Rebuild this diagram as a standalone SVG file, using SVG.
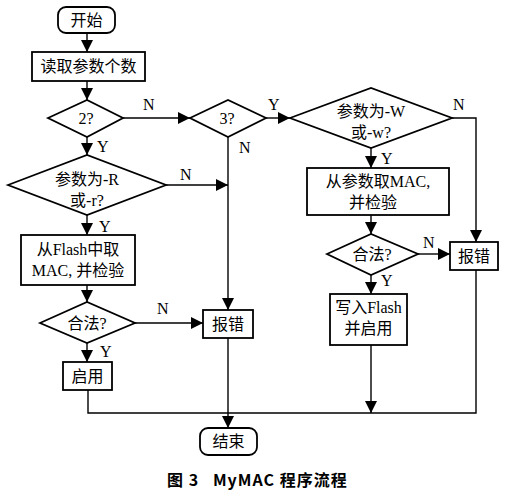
<svg xmlns="http://www.w3.org/2000/svg" width="506" height="498" viewBox="0 0 506 498">
<style>
.s{fill:#fff;stroke:#000;stroke-width:1.8}
.t{font-family:"Liberation Serif","Noto Sans CJK SC",serif;font-size:16px;fill:#000;text-anchor:middle}
.l{font-family:"Liberation Serif","Noto Sans CJK SC",serif;font-size:16px;fill:#000}
.c{fill:none;stroke:#000;stroke-width:1.4}
.cap{font-family:"Noto Sans CJK SC","DejaVu Sans",sans-serif;font-size:16px;font-weight:bold;fill:#000;letter-spacing:1px}
</style>
<defs>
<marker id="a" markerUnits="userSpaceOnUse" markerWidth="12" markerHeight="12" refX="12" refY="6" orient="auto"><path d="M0,0 L12,6 L0,12 z" fill="#000"/></marker>
</defs>
<rect width="506" height="498" fill="#fff"/>
<g id="connectors">
<path class="c" d="M87,33 V52" marker-end="url(#a)"/>
<path class="c" d="M87,81 V100" marker-end="url(#a)"/>
<path class="c" d="M123,118 H190" marker-end="url(#a)"/>
<path class="c" d="M87,137 V155" marker-end="url(#a)"/>
<path class="c" d="M266,118 H290" marker-end="url(#a)"/>
<path class="c" d="M228,137 V310" marker-end="url(#a)"/>
<path class="c" d="M166,185 H228" marker-end="url(#a)"/>
<path class="c" d="M87,215 V235" marker-end="url(#a)"/>
<path class="c" d="M87,285 V302" marker-end="url(#a)"/>
<path class="c" d="M135,323 H203" marker-end="url(#a)"/>
<path class="c" d="M87,343 V362" marker-end="url(#a)"/>
<path class="c" d="M452,118 H476 V242" marker-end="url(#a)"/>
<path class="c" d="M371,148 V168" marker-end="url(#a)"/>
<path class="c" d="M371,215 V234" marker-end="url(#a)"/>
<path class="c" d="M418,254 H450" marker-end="url(#a)"/>
<path class="c" d="M371,275 V294" marker-end="url(#a)"/>
<path class="c" d="M371,345 V413" marker-end="url(#a)"/>
<path class="c" d="M88,390 V413 H476 V270"/>
<path class="c" d="M228,338 V428" marker-end="url(#a)"/>
<text class="l" x="143" y="110">N</text>
<text class="l" x="97" y="152">Y</text>
<text class="l" x="239" y="153">N</text>
<text class="l" x="268" y="110">Y</text>
<text class="l" x="180" y="180">N</text>
<text class="l" x="99" y="232">Y</text>
<text class="l" x="157" y="314">N</text>
<text class="l" x="100" y="357">Y</text>
<text class="l" x="453" y="110">N</text>
<text class="l" x="381" y="164">Y</text>
<text class="l" x="423" y="248">N</text>
<text class="l" x="381" y="286">Y</text>
</g>
<g id="start"><rect class="s" x="58" y="7" width="57" height="26" rx="8"/><text class="t" x="86.5" y="25.5">开始</text></g>
<g id="read"><rect class="s" x="32" y="52" width="113" height="29"/><text class="t" x="88.5" y="72">读取参数个数</text></g>
<g id="d2"><polygon class="s" points="48,118 87,100 123,118 87,137"/><text class="t" x="86" y="124">2?</text></g>
<g id="d3"><polygon class="s" points="190,118 228,100 266,118 228,137"/><text class="t" x="227" y="124">3?</text></g>
<g id="dR"><polygon class="s" points="8,185 87,155 166,185 87,215"/><text class="t" x="87" y="185">参数为-R</text><text class="t" x="87" y="206">或-r?</text></g>
<g id="flash"><rect class="s" x="21" y="235" width="114" height="50"/><text class="t" x="78" y="255">从Flash中取</text><text class="t" x="78" y="276">MAC, 并检验</text></g>
<g id="validL"><polygon class="s" points="40,323 87,302 135,323 87,343"/><text class="t" x="87" y="329">合法?</text></g>
<g id="errM"><rect class="s" x="203" y="310" width="50" height="28"/><text class="t" x="228" y="330">报错</text></g>
<g id="enable"><rect class="s" x="63" y="362" width="49" height="28"/><text class="t" x="87.5" y="382">启用</text></g>
<g id="end"><rect class="s" x="200" y="428" width="57" height="27" rx="8"/><text class="t" x="228.5" y="447">结束</text></g>
<g id="dW"><polygon class="s" points="290,118 371,88 452,118 371,148"/><text class="t" x="371" y="117">参数为-W</text><text class="t" x="371" y="138">或-w?</text></g>
<g id="param"><rect class="s" x="307" y="168" width="142" height="47"/><text class="t" x="378" y="187">从参数取MAC,</text><text class="t" x="373" y="208">并检验</text></g>
<g id="validR"><polygon class="s" points="327,254 371,234 418,254 371,275"/><text class="t" x="372" y="260">合法?</text></g>
<g id="errR"><rect class="s" x="450" y="242" width="48" height="28"/><text class="t" x="474" y="262">报错</text></g>
<g id="write"><rect class="s" x="330" y="294" width="77" height="51"/><text class="t" x="368.5" y="313">写入Flash</text><text class="t" x="368.5" y="334">并启用</text></g>
<text class="cap" x="167" y="486" xml:space="preserve">图 3   MyMAC 程序流程</text>
</svg>
